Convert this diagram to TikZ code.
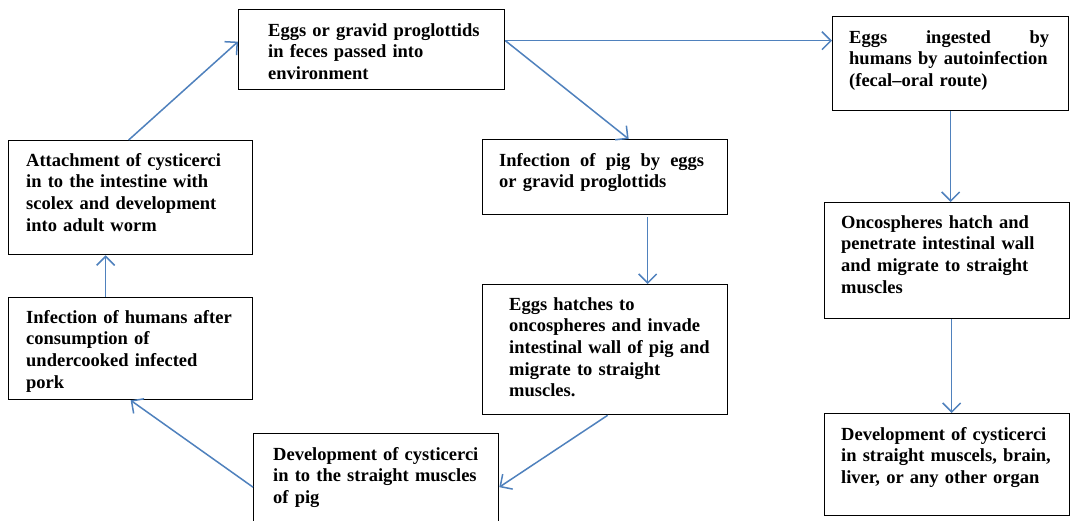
\documentclass[tikz,border=0pt]{standalone}
\usepackage{fontspec}
\setmainfont{Liberation Serif}
\usetikzlibrary{arrows.meta}
\definecolor{arrblue}{RGB}{79,129,189}
\begin{document}
\begin{tikzpicture}[x=1pt,y=-1pt,
  box/.style={draw=black,line width=1.3pt,inner sep=0pt,anchor=north west},
  txt/.style={anchor=base west,inner sep=0pt,text width=260pt,align=left,
    font=\fontsize{18.5}{21.7}\selectfont\bfseries},
  arr/.style={draw=arrblue,line width=1.5pt,-{Straight Barb[length=9pt,width=18pt,line width=1.5pt]}}]
\useasboundingbox (0,0) rectangle (1072,520);
\fill[white] (0,0) rectangle (1072,520);
% boxes
\node[box,minimum width=266pt,minimum height=80pt] (b1) at (238,9) {};
\node[box,minimum width=236pt,minimum height=94pt] (b2) at (832,16) {};
\node[box,minimum width=244pt,minimum height=114pt] (b3) at (8,140) {};
\node[box,minimum width=245pt,minimum height=75pt] (b4) at (482,139) {};
\node[box,minimum width=245pt,minimum height=116pt] (b5) at (824,202) {};
\node[box,minimum width=244pt,minimum height=102pt] (b6) at (8,297) {};
\node[box,minimum width=245pt,minimum height=130pt] (b7) at (482,284) {};
\node[box,minimum width=245pt,minimum height=107pt] (b8) at (253,433) {};
\node[box,minimum width=245pt,minimum height=102pt] (b9) at (824,413) {};
% texts
\node[txt] (t1) at (268,36) {Eggs or gravid proglottids\\in feces passed into\\environment};
\node[txt] (t2) at (849,43) {\makebox[200pt][l]{Eggs\hfill ingested\hfill by}\\humans by autoinfection\\(fecal–oral route)};
\node[txt] (t3) at (26,166) {Attachment of cysticerci\\in to the intestine with\\scolex and development\\into adult worm};
\node[txt] (t4) at (499,166) {\makebox[205pt][l]{Infection\hfill of\hfill pig\hfill by\hfill eggs}\\or gravid proglottids};
\node[txt] (t5) at (841,228) {Oncospheres hatch and\\penetrate intestinal wall\\and migrate to straight\\muscles};
\node[txt] (t6) at (26,323) {Infection of humans after\\consumption of\\undercooked infected\\pork};
\node[txt] (t7) at (509,310) {Eggs hatches to\\oncospheres and invade\\intestinal wall of pig and\\migrate to straight\\muscles.};
\node[txt] (t8) at (273,460) {Development of cysticerci\\in to the straight muscles\\of pig};
\node[txt] (t9) at (841,440) {Development of cysticerci\\in straight muscels, brain,\\liver, or any other organ};
% connectors
\draw[arr] ([xshift=-2pt]b3.north) -- ([yshift=8pt]b1.west);
\draw[arr] ([yshift=9pt]b1.east) -- ([yshift=9pt]b1.east -| b2.west);
\draw[arr] ([yshift=9pt]b1.east) -- ([xshift=23.5pt]b4.north);
\draw[arr] ([xshift=42.5pt,yshift=-2pt]b4.south) -- ([xshift=42.5pt]b7.north);
\draw[arr] ([xshift=2.5pt]b7.south) -- (b8.east);
\draw[arr] (b8.west) -- (b6.south);
\draw[arr] ([xshift=-25pt]b6.north) -- ([xshift=-25pt]b3.south);
\draw[arr] (b2.south) -- (b2.south |- b5.north);
\draw[arr] ([xshift=4.5pt]b5.south) -- ([xshift=4.5pt]b9.north);
\end{tikzpicture}
\end{document}
